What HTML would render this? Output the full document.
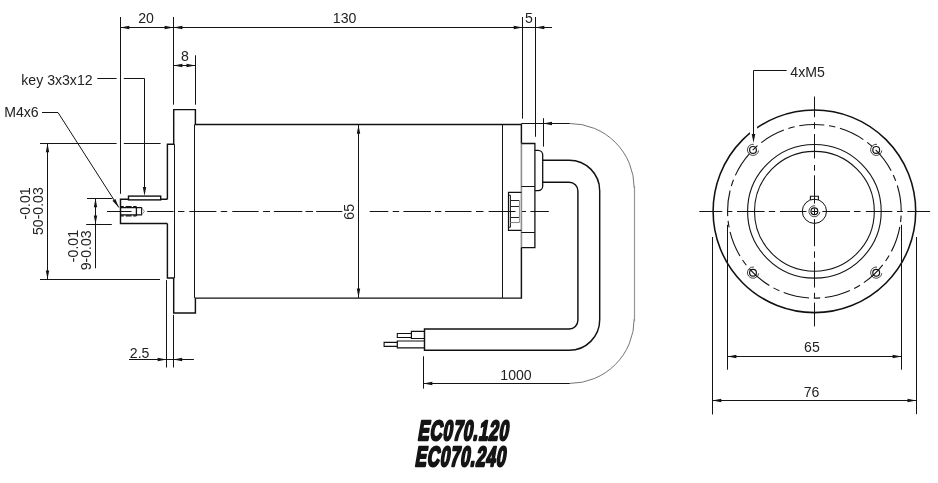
<!DOCTYPE html>
<html><head><meta charset="utf-8"><title>EC070 drawing</title>
<style>
html,body{margin:0;padding:0;background:#fff;}
body{width:938px;height:483px;overflow:hidden;}
svg{display:block;font-family:"Liberation Sans",sans-serif;filter:grayscale(1);}
</style></head><body>
<svg width="938" height="483" viewBox="0 0 938 483">
<rect width="938" height="483" fill="#fff"/>
<line x1="120.5" y1="17" x2="120.5" y2="193.8" stroke="#141414" stroke-width="1.0" />
<line x1="173.5" y1="17" x2="173.5" y2="104.7" stroke="#141414" stroke-width="1.0" />
<line x1="522.5" y1="17" x2="522.5" y2="118.6" stroke="#141414" stroke-width="1.0" />
<line x1="535.5" y1="17" x2="535.5" y2="136.8" stroke="#141414" stroke-width="1.0" />
<line x1="120.4" y1="27.5" x2="552" y2="27.5" stroke="#141414" stroke-width="1.0" />
<polygon points="120.40,27.50 129.30,25.80 129.30,29.20" fill="#141414"/>
<polygon points="173.50,27.50 164.60,29.20 164.60,25.80" fill="#141414"/>
<polygon points="173.50,27.50 182.40,25.80 182.40,29.20" fill="#141414"/>
<polygon points="522.60,27.50 513.70,29.20 513.70,25.80" fill="#141414"/>
<polygon points="535.40,27.50 544.30,25.80 544.30,29.20" fill="#141414"/>
<text transform="translate(146.0,22.6)" font-size="14.1" text-anchor="middle" fill="#222" >20</text>
<text transform="translate(344.6,22.6)" font-size="14.1" text-anchor="middle" fill="#222" >130</text>
<text transform="translate(528.9,22.6)" font-size="14.1" text-anchor="middle" fill="#222" >5</text>
<line x1="195.5" y1="55.3" x2="195.5" y2="104.7" stroke="#141414" stroke-width="1.0" />
<line x1="173.5" y1="65.5" x2="195.4" y2="65.5" stroke="#141414" stroke-width="1.0" />
<polygon points="173.50,65.50 182.40,63.80 182.40,67.20" fill="#141414"/>
<polygon points="195.40,65.50 186.50,67.20 186.50,63.80" fill="#141414"/>
<text transform="translate(185.0,60.6)" font-size="14.1" text-anchor="middle" fill="#222" >8</text>
<line x1="97.3" y1="78.5" x2="116.6" y2="78.5" stroke="#141414" stroke-width="1.0" />
<path d="M123.8,78.5 H144.5 V190" fill="none" stroke="#141414" stroke-width="1.0" />
<polygon points="144.50,195.90 142.80,187.00 146.20,187.00" fill="#141414"/>
<text transform="translate(21.3,84.8)" font-size="14.1" text-anchor="start" fill="#222" >key 3x3x12</text>
<text transform="translate(4.2,117.3)" font-size="14.1" text-anchor="start" fill="#222" >M4x6</text>
<path d="M42,112.5 H58 L118.8,207.4" fill="none" stroke="#141414" stroke-width="1.0" />
<polygon points="118.80,207.40 112.47,200.77 115.42,198.88" fill="#141414"/>
<line x1="40" y1="143.5" x2="116.6" y2="143.5" stroke="#141414" stroke-width="1.0" />
<line x1="123.8" y1="143.5" x2="160.6" y2="143.5" stroke="#141414" stroke-width="1.0" />
<line x1="40" y1="279.5" x2="160" y2="279.5" stroke="#141414" stroke-width="1.0" />
<line x1="47.5" y1="143.3" x2="47.5" y2="279.3" stroke="#141414" stroke-width="1.0" />
<polygon points="47.50,143.30 49.20,152.20 45.80,152.20" fill="#141414"/>
<polygon points="47.50,279.30 45.80,270.40 49.20,270.40" fill="#141414"/>
<text transform="translate(30.4,187.3) rotate(-90)" font-size="14.1" text-anchor="end" fill="#222" >-0.01</text>
<text transform="translate(42.6,187.2) rotate(-90)" font-size="14.1" text-anchor="end" fill="#222" >50-0.03</text>
<line x1="87" y1="198.5" x2="112.4" y2="198.5" stroke="#141414" stroke-width="1.0" />
<line x1="86.2" y1="224.5" x2="111.8" y2="224.5" stroke="#141414" stroke-width="1.0" />
<line x1="95.5" y1="198.3" x2="95.5" y2="268.3" stroke="#141414" stroke-width="1.0" />
<polygon points="95.50,198.30 97.20,207.20 93.80,207.20" fill="#141414"/>
<polygon points="95.50,224.30 93.80,215.40 97.20,215.40" fill="#141414"/>
<text transform="translate(77.8,230.0) rotate(-90)" font-size="14.1" text-anchor="end" fill="#222" >-0.01</text>
<text transform="translate(91.0,230.3) rotate(-90)" font-size="14.1" text-anchor="end" fill="#222" >9-0.03</text>
<line x1="166.5" y1="280.1" x2="166.5" y2="367.5" stroke="#141414" stroke-width="1.0" />
<line x1="173.5" y1="314.8" x2="173.5" y2="367.5" stroke="#141414" stroke-width="1.0" />
<line x1="129" y1="359.5" x2="193.9" y2="359.5" stroke="#141414" stroke-width="1.0" />
<polygon points="166.50,359.50 157.60,361.20 157.60,357.80" fill="#141414"/>
<polygon points="173.30,359.50 182.20,357.80 182.20,361.20" fill="#141414"/>
<text transform="translate(129.8,357.5)" font-size="14.1" text-anchor="start" fill="#222" >2.5</text>
<line x1="107" y1="211.5" x2="131.5" y2="211.5" stroke="#141414" stroke-width="1.0" />
<line x1="147.2" y1="211.5" x2="173.6" y2="211.5" stroke="#141414" stroke-width="1.0" />
<line x1="178" y1="211.5" x2="184.4" y2="211.5" stroke="#141414" stroke-width="1.0" />
<line x1="189.3" y1="211.5" x2="216.4" y2="211.5" stroke="#141414" stroke-width="1.0" />
<line x1="220.8" y1="211.5" x2="227.2" y2="211.5" stroke="#141414" stroke-width="1.0" />
<line x1="232.3" y1="211.5" x2="258.6" y2="211.5" stroke="#141414" stroke-width="1.0" />
<line x1="263" y1="211.5" x2="270" y2="211.5" stroke="#141414" stroke-width="1.0" />
<line x1="273.8" y1="211.5" x2="302.3" y2="211.5" stroke="#141414" stroke-width="1.0" />
<line x1="305.5" y1="211.5" x2="313" y2="211.5" stroke="#141414" stroke-width="1.0" />
<line x1="316.2" y1="211.5" x2="342.3" y2="211.5" stroke="#141414" stroke-width="1.0" />
<line x1="369.7" y1="211.5" x2="388.3" y2="211.5" stroke="#141414" stroke-width="1.0" />
<line x1="392.7" y1="211.5" x2="399.1" y2="211.5" stroke="#141414" stroke-width="1.0" />
<line x1="403.4" y1="211.5" x2="431" y2="211.5" stroke="#141414" stroke-width="1.0" />
<line x1="434.9" y1="211.5" x2="441.3" y2="211.5" stroke="#141414" stroke-width="1.0" />
<line x1="445.1" y1="211.5" x2="471.5" y2="211.5" stroke="#141414" stroke-width="1.0" />
<line x1="476" y1="211.5" x2="483.5" y2="211.5" stroke="#141414" stroke-width="1.0" />
<line x1="488.6" y1="211.5" x2="515.5" y2="211.5" stroke="#141414" stroke-width="1.0" />
<line x1="521" y1="211.5" x2="526" y2="211.5" stroke="#141414" stroke-width="1.0" />
<line x1="530.4" y1="211.5" x2="548.8" y2="211.5" stroke="#141414" stroke-width="1.0" />
<line x1="174.5" y1="144.2" x2="174.5" y2="278" stroke="#141414" stroke-width="1.0" />
<line x1="194.5" y1="124.4" x2="194.5" y2="297.9" stroke="#141414" stroke-width="1.0" />
<line x1="358.5" y1="124.4" x2="358.5" y2="297.9" stroke="#141414" stroke-width="1.0" />
<polygon points="358.50,124.90 360.20,133.80 356.80,133.80" fill="#141414"/>
<polygon points="358.50,297.40 356.80,288.50 360.20,288.50" fill="#141414"/>
<text transform="translate(354.0,211.8) rotate(-90)" font-size="14.1" text-anchor="middle" fill="#222" >65</text>
<line x1="502.5" y1="124.4" x2="502.5" y2="297.9" stroke="#141414" stroke-width="1.0" />
<path d="M173.7,144.3 V109.6 H195.4 V124.4 H521.4 V143.5" fill="none" stroke="#111" stroke-width="1.45" stroke-linejoin="miter"/>
<path d="M173.7,277.9 V312.9 H195.4 V298.1 H521.4 V247.6" fill="none" stroke="#111" stroke-width="1.45" />
<path d="M174.2,144.3 H167.4 V199.2" fill="none" stroke="#111" stroke-width="1.45" />
<path d="M174.2,277.9 H167.4 V223.4" fill="none" stroke="#111" stroke-width="1.45" />
<path d="M167.4,199.2 H120.5 V223.4 H167.4" fill="none" stroke="#111" stroke-width="1.45" />
<rect x="128.5" y="196.1" width="32.2" height="3.8" fill="#fff" stroke="#111" stroke-width="1.4"/>
<path d="M120.8,206.6 H136.4" fill="none" stroke="#111" stroke-width="1.2" stroke-dasharray="3.0 1.8 6 1.6 3.2"/>
<path d="M120.8,215.9 H136.4" fill="none" stroke="#111" stroke-width="1.2" stroke-dasharray="3.0 1.8 6 1.6 3.2"/>
<line x1="136.4" y1="206.6" x2="136.4" y2="215.9" stroke="#111" stroke-width="1.3" />
<path d="M120.5,207.6 H141.6 V214.9 H120.5" fill="none" stroke="#111" stroke-width="1.1" />
<path d="M141.6,207.6 L144.4,211.4 L141.6,214.9" fill="none" stroke="#666" stroke-width="0.7" />
<line x1="521.4" y1="143.5" x2="521.4" y2="247.6" stroke="#8e8e8e" stroke-width="1.6" />
<path d="M521.4,143.5 H534.9 V247.6 H521.4" fill="none" stroke="#111" stroke-width="1.3" />
<line x1="521.4" y1="186.5" x2="534.9" y2="186.5" stroke="#111" stroke-width="1.0" />
<line x1="521.4" y1="232.5" x2="534.9" y2="232.5" stroke="#111" stroke-width="1.0" />
<line x1="521.4" y1="123.5" x2="543.1" y2="123.5" stroke="#111" stroke-width="1.0" />
<path d="M534.9,150.3 H538.2 a4.5,4.5 0 0 1 4.5,4.5 V186.1 a4.5,4.5 0 0 1 -4.5,4.5 H534.9" fill="none" stroke="#111" stroke-width="1.3" />
<path d="M521.4,192.4 H508.5 V230.4 H521.4" fill="none" stroke="#111" stroke-width="1.2" />
<path d="M508.5,195.2 H510.4 V227.2 H508.5" fill="none" stroke="#111" stroke-width="1.0" />
<line x1="510.4" y1="200.5" x2="519.3" y2="200.5" stroke="#222" stroke-width="1.0" />
<line x1="510.4" y1="206.5" x2="519.3" y2="206.5" stroke="#222" stroke-width="1.0" />
<line x1="510.4" y1="217.5" x2="519.3" y2="217.5" stroke="#222" stroke-width="1.0" />
<line x1="510.4" y1="222.5" x2="519.3" y2="222.5" stroke="#8a8a8a" stroke-width="1.1" />
<line x1="519.5" y1="200.5" x2="519.5" y2="222.6" stroke="#999" stroke-width="1.2" />
<path d="M542.7,160.2 H569.2 a30.5,30.5 0 0 1 30.5,30.5 V319.8 a30.5,30.5 0 0 1 -30.5,30.5 H424.5 V329.0 H569.1999999999999 a8.7,8.7 0 0 0 8.7,-8.7 V191.0 a8.7,8.7 0 0 0 -8.7,-8.7 H542.7" fill="none" stroke="#111" stroke-width="1.45" />
<path d="M424.5,331.3 H411.4 V338.5 H424.5" fill="none" stroke="#111" stroke-width="1.2" />
<path d="M411.4,333.5 H397.3 V337.5 H411.4" fill="none" stroke="#111" stroke-width="1.1" />
<path d="M424.5,341.0 H397.3 V347.8 H424.5" fill="none" stroke="#111" stroke-width="1.2" />
<path d="M397.3,342.4 H384.1 V346.4 H397.3" fill="none" stroke="#111" stroke-width="1.1" />
<line x1="543.5" y1="118.2" x2="543.5" y2="146.6" stroke="#141414" stroke-width="1.0" />
<line x1="543.1" y1="123.5" x2="569.8000000000001" y2="123.5" stroke="#141414" stroke-width="1.0" />
<line x1="423.4" y1="383.5" x2="569.8000000000001" y2="383.5" stroke="#141414" stroke-width="1.0" />
<path d="M569.8000000000001,123.5 a64.4,64.4 0 0 1 64.4,64.4" fill="none" stroke="#3a3a3a" stroke-width="0.7" />
<path d="M634.2,319.0 a64.4,64.4 0 0 1 -64.4,64.4" fill="none" stroke="#3a3a3a" stroke-width="0.7" />
<line x1="634.5" y1="185.9" x2="634.5" y2="321.0" stroke="#959595" stroke-width="1.2" />
<polygon points="543.10,123.50 552.00,121.80 552.00,125.20" fill="#141414"/>
<polygon points="423.40,383.50 432.30,381.80 432.30,385.20" fill="#141414"/>
<line x1="423.5" y1="356.3" x2="423.5" y2="388.6" stroke="#141414" stroke-width="1.0" />
<text transform="translate(516.0,379.7)" font-size="14.1" text-anchor="middle" fill="#222" >1000</text>
<circle cx="814.4" cy="211.3" r="101.3" fill="none" stroke="#111" stroke-width="1.55"/>
<line x1="753.5" y1="125" x2="753.5" y2="140" stroke="#fff" stroke-width="7" />
<circle cx="814.4" cy="211.3" r="66.8" fill="none" stroke="#141414" stroke-width="1.1"/>
<circle cx="814.4" cy="211.3" r="59.9" fill="none" stroke="#141414" stroke-width="1.1"/>
<path d="M814.4,124.50000000000001 A86.8,86.8 0 1 1 814.4,298.1 A86.8,86.8 0 1 1 814.4,124.50000000000001" fill="none" stroke="#141414" stroke-width="1.1" stroke-dasharray="26 4.7 6.5 4.753" stroke-dashoffset="16"/>
<circle cx="814.4" cy="211.3" r="12.1" fill="none" stroke="#111" stroke-width="1.0"/>
<path d="M810.4,200 V196.3 H818.4 V200" fill="none" stroke="#111" stroke-width="1.1" />
<path d="M815.1999999999999,205.8 A5.5,5.5 0 1 0 819.9,211.9" fill="none" stroke="#141414" stroke-width="0.8"/>
<circle cx="814.4" cy="211.3" r="3.4" fill="none" stroke="#111" stroke-width="1.2"/>
<path d="M753.8,144.3 A5.6,5.6 0 1 0 758.6,150.5" fill="none" stroke="#141414" stroke-width="0.8"/>
<circle cx="753.0" cy="149.9" r="3.4" fill="none" stroke="#111" stroke-width="1.2"/>
<path d="M876.9999999999999,144.3 A5.6,5.6 0 1 0 881.8,150.5" fill="none" stroke="#141414" stroke-width="0.8"/>
<circle cx="876.1999999999999" cy="149.9" r="3.4" fill="none" stroke="#111" stroke-width="1.2"/>
<path d="M753.8,267.09999999999997 A5.6,5.6 0 1 0 758.6,273.3" fill="none" stroke="#141414" stroke-width="0.8"/>
<circle cx="753.0" cy="272.7" r="3.4" fill="none" stroke="#111" stroke-width="1.2"/>
<path d="M876.9999999999999,267.09999999999997 A5.6,5.6 0 1 0 881.8,273.3" fill="none" stroke="#141414" stroke-width="0.8"/>
<circle cx="876.1999999999999" cy="272.7" r="3.4" fill="none" stroke="#111" stroke-width="1.2"/>
<line x1="699.3" y1="211.5" x2="722.3" y2="211.5" stroke="#141414" stroke-width="1.0" />
<line x1="727" y1="211.5" x2="732.3" y2="211.5" stroke="#141414" stroke-width="1.0" />
<line x1="737" y1="211.5" x2="764.6" y2="211.5" stroke="#141414" stroke-width="1.0" />
<line x1="768.8" y1="211.5" x2="775.1" y2="211.5" stroke="#141414" stroke-width="1.0" />
<line x1="779.9" y1="211.5" x2="806.4" y2="211.5" stroke="#141414" stroke-width="1.0" />
<line x1="811.9" y1="211.5" x2="817.3" y2="211.5" stroke="#141414" stroke-width="1.0" />
<line x1="822.3" y1="211.5" x2="850" y2="211.5" stroke="#141414" stroke-width="1.0" />
<line x1="853.9" y1="211.5" x2="860.5" y2="211.5" stroke="#141414" stroke-width="1.0" />
<line x1="865.8" y1="211.5" x2="892.3" y2="211.5" stroke="#141414" stroke-width="1.0" />
<line x1="897" y1="211.5" x2="902.9" y2="211.5" stroke="#141414" stroke-width="1.0" />
<line x1="907.3" y1="211.5" x2="930.1" y2="211.5" stroke="#141414" stroke-width="1.0" />
<line x1="814.5" y1="96.5" x2="814.5" y2="117.2" stroke="#141414" stroke-width="1.0" />
<line x1="814.5" y1="122.3" x2="814.5" y2="128.8" stroke="#141414" stroke-width="1.0" />
<line x1="814.5" y1="134" x2="814.5" y2="158.5" stroke="#141414" stroke-width="1.0" />
<line x1="814.5" y1="165" x2="814.5" y2="170.7" stroke="#141414" stroke-width="1.0" />
<line x1="814.5" y1="175.3" x2="814.5" y2="203.6" stroke="#141414" stroke-width="1.0" />
<line x1="814.5" y1="208.5" x2="814.5" y2="214.1" stroke="#141414" stroke-width="1.0" />
<line x1="814.5" y1="219.1" x2="814.5" y2="246.2" stroke="#141414" stroke-width="1.0" />
<line x1="814.5" y1="251.4" x2="814.5" y2="257.8" stroke="#141414" stroke-width="1.0" />
<line x1="814.5" y1="261.7" x2="814.5" y2="287.6" stroke="#141414" stroke-width="1.0" />
<line x1="814.5" y1="292.8" x2="814.5" y2="297.9" stroke="#141414" stroke-width="1.0" />
<line x1="814.5" y1="302.6" x2="814.5" y2="326.4" stroke="#141414" stroke-width="1.0" />
<path d="M786.7,70.5 H753.5 V137" fill="none" stroke="#141414" stroke-width="1.0" />
<polygon points="753.50,142.80 751.70,134.00 755.30,134.00" fill="#141414"/>
<text transform="translate(790.3,76.7)" font-size="14.1" text-anchor="start" fill="#222" >4xM5</text>
<line x1="727.5" y1="224.8" x2="727.5" y2="369.7" stroke="#141414" stroke-width="1.0" />
<line x1="901.5" y1="224.8" x2="901.5" y2="369.7" stroke="#141414" stroke-width="1.0" />
<line x1="712.5" y1="237" x2="712.5" y2="414.5" stroke="#141414" stroke-width="1.0" />
<line x1="916.5" y1="237" x2="916.5" y2="414.2" stroke="#141414" stroke-width="1.0" />
<line x1="727.5" y1="356.5" x2="901.5" y2="356.5" stroke="#141414" stroke-width="1.0" />
<polygon points="727.50,356.50 736.40,354.80 736.40,358.20" fill="#141414"/>
<polygon points="901.50,356.50 892.60,358.20 892.60,354.80" fill="#141414"/>
<line x1="712.4" y1="400.5" x2="916.4" y2="400.5" stroke="#141414" stroke-width="1.0" />
<polygon points="712.40,400.50 721.30,398.80 721.30,402.20" fill="#141414"/>
<polygon points="916.40,400.50 907.50,402.20 907.50,398.80" fill="#141414"/>
<text transform="translate(811.9,351.7)" font-size="14.1" text-anchor="middle" fill="#222" >65</text>
<text transform="translate(811.6,396.5)" font-size="14.1" text-anchor="middle" fill="#222" >76</text>
<text transform="translate(417.3,439.7) skewX(-9.5) scale(0.615,1)" letter-spacing="1.0" font-size="27.8" font-weight="bold" fill="#151515" stroke="#151515" stroke-width="1.9" stroke-linejoin="round" vector-effect="non-scaling-stroke">EC070.120</text>
<text transform="translate(414.5,466.2) skewX(-9.5) scale(0.615,1)" letter-spacing="1.0" font-size="27.8" font-weight="bold" fill="#151515" stroke="#151515" stroke-width="1.9" stroke-linejoin="round" vector-effect="non-scaling-stroke">EC070.240</text>
</svg>
</body></html>
